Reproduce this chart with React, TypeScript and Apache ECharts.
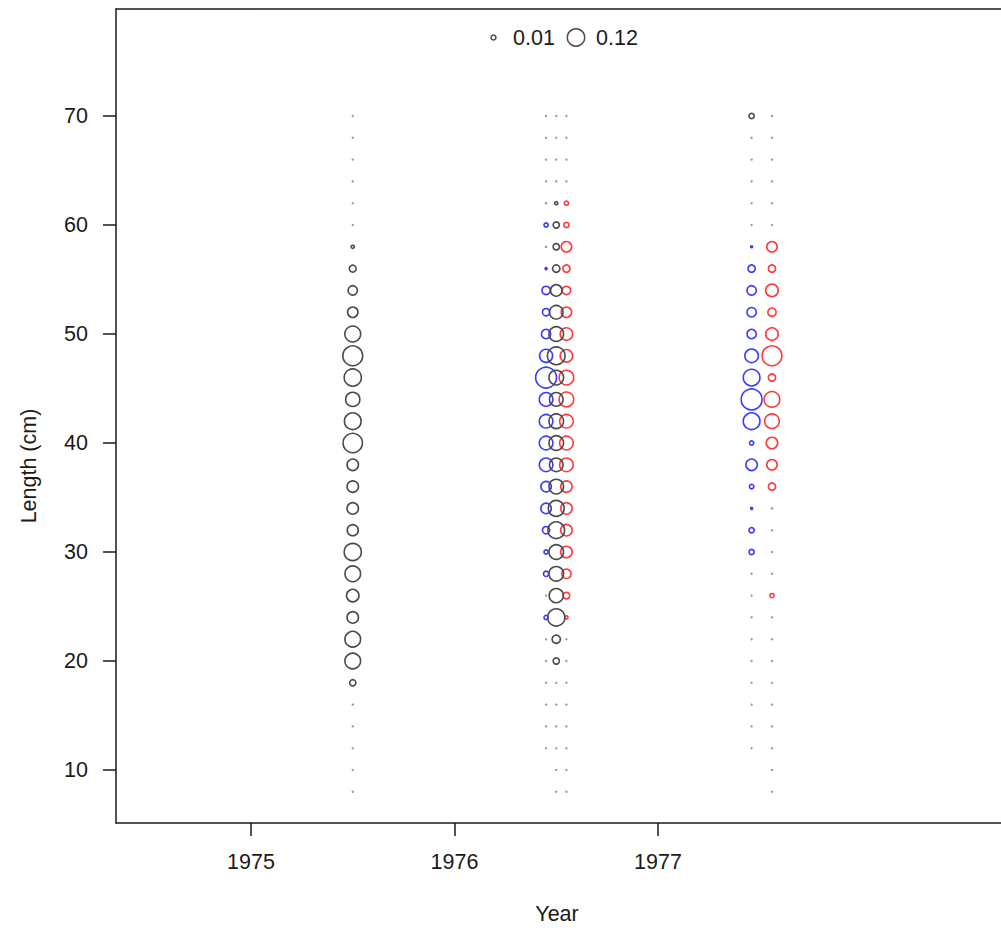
import React, { useEffect, useRef } from "react";
import * as echarts from "echarts";

// ---- data ----
const lengths = [8, 10, 12, 14, 16, 18, 20, 22, 24, 26, 28, 30, 32, 34, 36, 38, 40, 42, 44, 46, 48, 50, 52, 54, 56, 58, 60, 62, 64, 66, 68, 70];
const yearTicks = [1975, 1976, 1977];
const lengthTicks = [10, 20, 30, 40, 50, 60, 70];
const legendValues = [0.01, 0.12];

// x positions of each column (year + within-year offset)
const pos1975Black = 1975.5;
const pos1976Blue = 1976.45;
const pos1976Black = 1976.5;
const pos1976Red = 1976.55;
const pos1977Blue = 1977.46;
const pos1977Black = 1977.46;
const pos1977Red = 1977.56;

// proportions by length bin (order = lengths)
const y1975Black = [0.0002, 0.0002, 0.0002, 0.0002, 0.0002, 0.0156, 0.0977, 0.0977, 0.0525, 0.0625, 0.0977, 0.118, 0.049, 0.0525, 0.0525, 0.0525, 0.15, 0.111, 0.08, 0.118, 0.157, 0.1, 0.0434, 0.0352, 0.019, 0.004, 0.0005, 0.0002, 0.0002, 0.0002, 0.0002, 0.0002];
const y1976Blue = [null, null, 0.0002, 0.0002, 0.0002, 0.0002, 0.0002, 0.0002, 0.0069, 0.0002, 0.011, 0.0069, 0.0213, 0.0434, 0.0434, 0.0734, 0.0734, 0.0734, 0.0734, 0.174, 0.068, 0.035, 0.0213, 0.0278, 0.0015, 0.0008, 0.0069, 0.0008, 0.0002, 0.0002, 0.0002, 0.0002];
const y1976Black = [0.0002, 0.0002, 0.0002, 0.0002, 0.0002, 0.0002, 0.0156, 0.0278, 0.118, 0.08, 0.0851, 0.0851, 0.111, 0.1, 0.0851, 0.0734, 0.0851, 0.0851, 0.0734, 0.0851, 0.125, 0.0851, 0.0734, 0.0525, 0.022, 0.016, 0.0156, 0.0039, 0.0002, 0.0002, 0.0002, 0.0002];
const y1976Red = [0.0002, 0.0002, 0.0002, 0.0002, 0.0002, 0.0002, 0.0002, 0.0005, 0.0039, 0.0175, 0.0352, 0.0525, 0.0525, 0.0525, 0.0525, 0.0734, 0.0734, 0.0734, 0.0851, 0.0851, 0.0625, 0.0625, 0.0434, 0.0278, 0.0213, 0.0434, 0.011, 0.0069, 0.0002, 0.0002, 0.0002, 0.0002];
const y1977Blue = [null, null, 0.0002, 0.0002, 0.0002, 0.0002, 0.0002, 0.0002, 0.0002, 0.0002, 0.0005, 0.011, 0.011, 0.0015, 0.008, 0.0525, 0.0069, 0.111, 0.174, 0.111, 0.0734, 0.0352, 0.0352, 0.0352, 0.0213, 0.0015, 0.0002, 0.0002, 0.0002, 0.0002, 0.0002, null];
const y1977Black = [null, null, null, null, null, null, null, null, null, null, null, null, null, null, null, null, null, null, null, null, null, null, null, null, null, null, null, null, null, null, null, 0.011];
const y1977Red = [0.0002, 0.0002, 0.0002, 0.0002, 0.0002, 0.0002, 0.0002, 0.0002, 0.0002, 0.0069, 0.0002, 0.0005, 0.0005, 0.0008, 0.0213, 0.0434, 0.0525, 0.0851, 0.0977, 0.0213, 0.157, 0.0625, 0.0278, 0.0625, 0.0213, 0.0434, 0.0002, 0.0002, 0.0002, 0.0002, 0.0002, 0.0002];

// ---- style ----
const FONT = "'Liberation Sans', Arial, Helvetica, sans-serif";
const INK = "#1a1a1a";
const BLACK = "#4a4a4a";
const BLUE = "#3a3aff";
const RED = "#ff3a3a";
const DOT = "#9a9a9a";
const SCALE = 25; // radius px per sqrt(proportion)
const FS = 21.5;

function radius(v: number) {
  return SCALE * Math.sqrt(v);
}

function makeSeries(name: string, x: number, values: (number | null)[], color: string) {
  const data = lengths
    .map((L, i) => {
      const v = values[i];
      if (v == null) return null;
      const tiny = radius(v) < 0.8;
      return {
        value: [x, L, v],
        itemStyle: tiny ? { borderColor: DOT, borderWidth: 1.2 } : undefined,
      };
    })
    .filter((d) => d != null);
  return {
    name,
    type: "scatter",
    data,
    symbol: "circle",
    symbolSize: (val: number[]) => Math.max(1.2, 2 * radius(val[2])),
    itemStyle: { color: "rgba(0,0,0,0)", borderColor: color, borderWidth: 1.6, opacity: 1 },
    emphasis: { disabled: true },
    silent: true,
    z: 3,
  };
}

export default function App() {
  const ref = useRef<HTMLDivElement>(null);
  useEffect(() => {
    if (!ref.current) return;
    const chart = echarts.init(ref.current, null, { renderer: "svg" });
    const legendCy = 37.5;
    chart.setOption({
      animation: false,
      backgroundColor: "#ffffff",
      grid: {
        left: 116,
        top: 9,
        width: 916,
        height: 814,
        show: false,
        containLabel: false,
        outerBoundsMode: "none",
      },
      xAxis: [
        {
          type: "value",
          position: "bottom",
          min: 1974.3366,
          max: 1974.3366 + 916 / 203.5,
          axisLine: { show: true, onZero: false, lineStyle: { color: INK, width: 1.5 } },
          splitLine: { show: false },
          axisTick: { show: true, customValues: yearTicks, length: 13, lineStyle: { color: INK, width: 1.5 } },
          axisLabel: {
            customValues: yearTicks,
            margin: 28,
            fontSize: FS,
            color: INK,
            fontFamily: FONT,
            formatter: (v: number) => String(v),
          },
        },
        {
          type: "value",
          position: "top",
          min: 1974.3366,
          max: 1974.3366 + 916 / 203.5,
          axisLine: { show: true, onZero: false, lineStyle: { color: INK, width: 1.5 } },
          splitLine: { show: false },
          axisTick: { show: false },
          axisLabel: { show: false },
        },
      ],
      yAxis: {
        type: "value",
        min: 5.138,
        max: 79.817,
        axisLine: { show: true, onZero: false, lineStyle: { color: INK, width: 1.5 } },
        splitLine: { show: false },
        axisTick: { show: true, customValues: lengthTicks, length: 13, lineStyle: { color: INK, width: 1.5 } },
        axisLabel: {
          customValues: lengthTicks,
          margin: 28,
          fontSize: FS,
          color: INK,
          fontFamily: FONT,
          formatter: (v: number) => String(v),
        },
      },
      series: [
        makeSeries("1975", pos1975Black, y1975Black, BLACK),
        makeSeries("1976 male", pos1976Blue, y1976Blue, BLUE),
        makeSeries("1976 female", pos1976Red, y1976Red, RED),
        makeSeries("1976", pos1976Black, y1976Black, BLACK),
        makeSeries("1977 male", pos1977Blue, y1977Blue, BLUE),
        makeSeries("1977", pos1977Black, y1977Black, BLACK),
        makeSeries("1977 female", pos1977Red, y1977Red, RED),
      ],
      graphic: [
        {
          type: "circle",
          shape: { cx: 493.5, cy: legendCy, r: radius(legendValues[0]) },
          style: { fill: "none", stroke: BLACK, lineWidth: 1.5 },
        },
        {
          type: "text",
          x: 513,
          y: legendCy,
          style: { text: String(legendValues[0]), font: `${FS}px ${FONT}`, fill: INK, textAlign: "left", textVerticalAlign: "middle", verticalAlign: "middle" },
        },
        {
          type: "circle",
          shape: { cx: 576, cy: legendCy, r: radius(legendValues[1]) },
          style: { fill: "none", stroke: BLACK, lineWidth: 1.5 },
        },
        {
          type: "text",
          x: 596,
          y: legendCy,
          style: { text: String(legendValues[1]), font: `${FS}px ${FONT}`, fill: INK, textAlign: "left", textVerticalAlign: "middle", verticalAlign: "middle" },
        },
        {
          type: "text",
          x: 557,
          y: 914,
          style: { text: "Year", font: `${FS}px ${FONT}`, fill: INK, textAlign: "center", textVerticalAlign: "middle", verticalAlign: "middle" },
        },
        {
          type: "text",
          x: 29,
          y: 466,
          rotation: Math.PI / 2,
          style: { text: "Length (cm)", font: `${FS}px ${FONT}`, fill: INK, textAlign: "center", textVerticalAlign: "middle", verticalAlign: "middle" },
        },
      ],
    });
    return () => chart.dispose();
  }, []);
  return (
    <div
      ref={ref}
      style={{ position: "fixed", left: 0, top: 0, width: 1040, height: 932, background: "#fff" }}
    />
  );
}
